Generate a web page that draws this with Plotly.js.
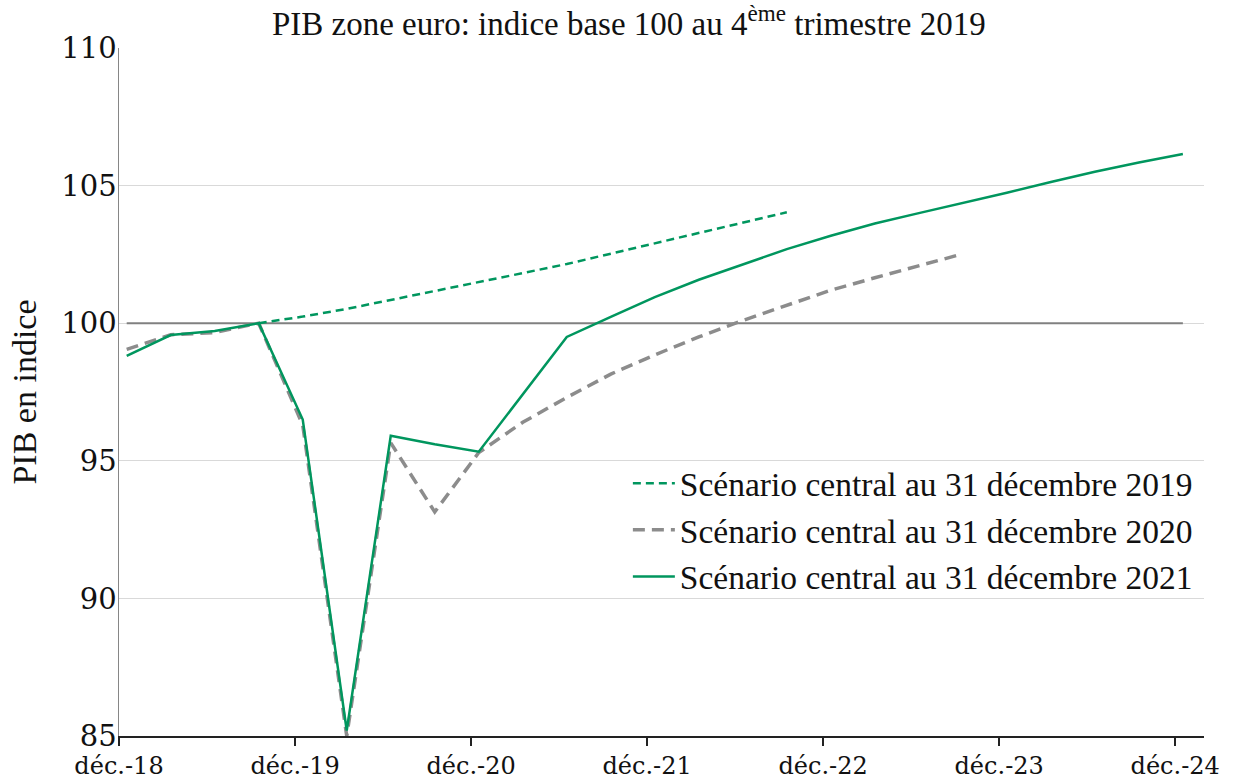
<!DOCTYPE html>
<html>
<head>
<meta charset="utf-8">
<script src="https://cdn.plot.ly/plotly-3.0.1.min.js"></script>
<style>
html,body{margin:0;padding:0;background:#fff;}
#chart{width:1233px;height:780px;}
</style>
</head>
<body>
<div id="chart"></div>
<script>
// Quarters (Q1 2019 ... Q1 2025)
const quarters = ["T1 2019","T2 2019","T3 2019","T4 2019",
  "T1 2020","T2 2020","T3 2020","T4 2020",
  "T1 2021","T2 2021","T3 2021","T4 2021",
  "T1 2022","T2 2022","T3 2022","T4 2022",
  "T1 2023","T2 2023","T3 2023","T4 2023",
  "T1 2024","T2 2024","T3 2024","T4 2024",
  "T1 2025"];

// Scénario central au 31 décembre 2019 (green, short dashes)
const scen2019 = [null,null,null,100.00,100.24,100.52,100.84,101.17,101.49,101.82,102.15,102.53,102.90,103.28,103.65,104.03,
  null,null,null,null,null,null,null,null,null];
// Scénario central au 31 décembre 2020 (grey, long dashes)
const scen2020 = [99.05,99.58,99.66,100.00,96.30,85.00,95.65,93.14,95.30,96.40,97.30,98.15,98.85,99.50,100.10,100.65,101.20,101.65,102.10,102.52,
  null,null,null,null,null];
// Scénario central au 31 décembre 2021 (green, solid)
const scen2021 = [98.81,99.57,99.72,100.00,96.50,85.20,95.91,95.60,95.33,97.42,99.50,100.23,100.95,101.58,102.13,102.69,103.18,103.62,104.00,104.36,104.74,105.13,105.50,105.84,106.15];
// Base 100 reference line
const base100 = quarters.map(() => 100);

const seriesNames = ["Scénario central au 31 décembre 2019",
  "Scénario central au 31 décembre 2020",
  "Scénario central au 31 décembre 2021"];

// x-axis tick labels (December of each year)
const tickLabels = ["déc.-18","déc.-19","déc.-20","déc.-21","déc.-22","déc.-23","déc.-24"];
const yTickVals = [85, 90, 95, 100, 105, 110];

const xIdx = quarters.map((_, i) => i);
// ticks fall slightly before the first-quarter points
const tickVals = tickLabels.map((_, k) => 4 * k - 0.175);

const green = "#00965E";
const grey = "#8C8C8C";

const traces = [
  {x: xIdx, y: base100, mode: "lines", showlegend: false, hoverinfo: "skip",
   line: {color: "#808080", width: 2}},
  {x: xIdx, y: scen2020, mode: "lines", name: seriesNames[1], legendrank: 2, legendgroup: "b",
   line: {color: grey, width: 3.5, dash: "12px,7px"}},
  {x: xIdx, y: scen2019, mode: "lines", name: seriesNames[0], legendrank: 1, legendgroup: "a",
   line: {color: green, width: 2.5, dash: "8px,5px"}},
  {x: xIdx, y: scen2021, mode: "lines", name: seriesNames[2], legendrank: 3, legendgroup: "c",
   line: {color: green, width: 2.5}}
];

const layout = {
  width: 1233, height: 780,
  margin: {l: 119, r: 29, t: 48, b: 44},
  paper_bgcolor: "#fff", plot_bgcolor: "#fff",
  title: {text: "PIB zone euro: indice base 100 au 4<sup>ème</sup> trimestre 2019",
    font: {family: "Liberation Serif", size: 33, color: "#111"},
    x: 0.51, xref: "container", xanchor: "center",
    y: 0.97, yref: "container", yanchor: "middle"},
  xaxis: {range: [-0.175, 24.48], tickmode: "array", tickvals: tickVals, ticktext: tickLabels,
    showgrid: false, zeroline: false, showline: true, linecolor: "#222", linewidth: 1.5,
    ticks: "outside", ticklen: 8, tickcolor: "#222", tickwidth: 1.5,
    tickfont: {family: "DejaVu Serif", size: 24, color: "#111"}},
  yaxis: {range: [85, 110], tickmode: "array", tickvals: yTickVals, ticktext: yTickVals.map(String),
    showgrid: true, gridcolor: "#D9D9D9", gridwidth: 1, zeroline: false,
    showline: true, linecolor: "#868686", linewidth: 1.5, ticks: "", ticklabelstandoff: -5,
    tickfont: {family: "DejaVu Serif", size: 29, color: "#111"},
    title: {text: "PIB en indice", font: {family: "Liberation Serif", size: 34, color: "#111"}, standoff: 14}},
  legend: {x: 0.469, y: 0.4084, xanchor: "left", yanchor: "top", itemwidth: 42,
    bgcolor: "rgba(255,255,255,0)", borderwidth: 0, traceorder: "grouped", tracegroupgap: 0,
    font: {family: "Liberation Serif", size: 33.5, color: "#111"}},
  showlegend: true
};

Plotly.newPlot("chart", traces, layout, {displayModeBar: false, staticPlot: true});
</script>
</body>
</html>
